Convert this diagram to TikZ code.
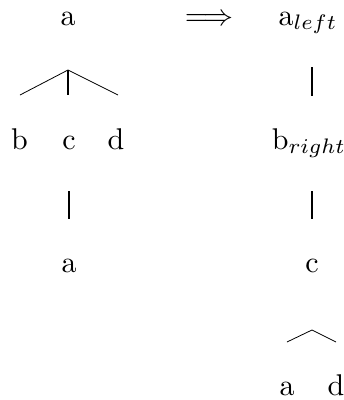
\documentclass[tikz,border=0pt]{standalone}
\usepackage{amsmath,amsfonts,amssymb}
\usetikzlibrary{positioning}

\begin{document}
\begin{tikzpicture}[
  x=1pt, y=-1pt,
  every node/.style={font=\normalsize, scale=3, inner sep=0pt, anchor=base},
  bar/.style={draw, line width=2pt, shorten <=42pt, shorten >=53pt},
  fan/.style={draw, line width=0.8pt}
]
\useasboundingbox (0,0) rectangle (344,400);
% left tree
\node (a1) at (68,25) {a};
\coordinate (apex1) at (68,70);
\coordinate (fanl1) at (20,95);
\coordinate (fanm1) at (68,95);
\coordinate (fanr1) at (118,95);
\draw[fan] (fanl1) -- (apex1) -- (fanr1);
\draw[fan, line width=2pt] (apex1) -- (fanm1);
\node (b1) at (19.5,149) {b};
\node (c1) at (69,149) {c};
\node (d1) at (116,149) {d};
\node (a2) at (69,272) {a};
\draw[bar] (c1.base) -- (a2.base);
% rewrite
\node (imp) at (209,25) {$\Longrightarrow$};
% right tree
\node (aL) at (308,25) {a$_{left}$};
\node (bR) at (309,149) {b$_{right}$};
\node (c2) at (312,272) {c};
\draw[bar] (aL.base -| c2.base) -- (bR.base -| c2.base);
\draw[bar] (bR.base -| c2.base) -- (c2.base);
\coordinate (apex2) at (312,330);
\coordinate (fanl2) at (287,342);
\coordinate (fanr2) at (336,342);
\draw[fan] (fanl2) -- (apex2) -- (fanr2);
\node (a3) at (287,395) {a};
\node (d3) at (336,395) {d};
\end{tikzpicture}
\end{document}
